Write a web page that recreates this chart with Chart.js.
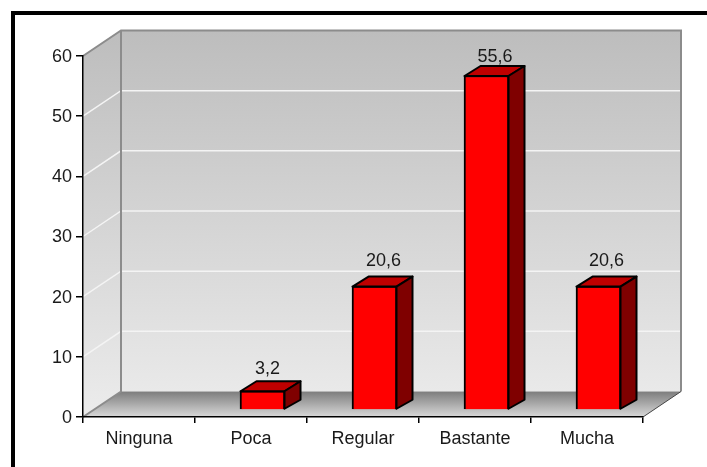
<!DOCTYPE html>
<html lang="es">
<head>
    <meta charset="UTF-8">
    <title>Grafico</title>
    <script src="https://cdn.jsdelivr.net/npm/chart.js"></script>
    <style>
        html, body { margin: 0; padding: 0; background: #fff; }
        #wrap { width: 707px; height: 467px; }
        canvas { display: block; }
    </style>
</head>
<body>
    <div id="wrap"><canvas id="chart" width="707" height="467"></canvas></div>
    <script>
        const categories = ['Ninguna', 'Poca', 'Regular', 'Bastante', 'Mucha'];
        const values = [null, 3.2, 20.6, 55.6, 20.6];
        const valueLabels = ['', '3,2', '20,6', '55,6', '20,6'];
        const yTicks = [0, 10, 20, 30, 40, 50, 60];

        // depth of the box and of the bars, in pixels
        const wallDX = 38, wallDY = 25.5;
        const barDX = 16, barDY = 9.5;
        const shiftX = 11.5, shiftY = 7;
        // the value labels are not placed evenly in the original
        const labelLift = [0, 22, 25, 18, 25];
        const labelNudge = [0, 5, 9, 8.5, 8];
        const textFont = '"Liberation Sans", Arial, sans-serif';

        function poly(ctx, pts, fill, stroke, lw) {
            ctx.beginPath();
            pts.forEach((p, i) => i ? ctx.lineTo(p[0], p[1]) : ctx.moveTo(p[0], p[1]));
            ctx.closePath();
            if (fill) { ctx.fillStyle = fill; ctx.fill(); }
            if (stroke) { ctx.strokeStyle = stroke; ctx.lineWidth = lw; ctx.stroke(); }
        }

        const box3d = {
            id: 'box3d',
            beforeDraw(chart) {
                const { ctx, scales } = chart;
                const y = scales.y, x = scales.x;
                const l = x.left, r = x.right, top = y.getPixelForValue(60), bot = y.getPixelForValue(0);
                ctx.save();

                // frame, only top and left show
                ctx.fillStyle = '#000';
                ctx.fillRect(11, 11, 696, 4);
                ctx.fillRect(11, 11, 4, 456);

                const wall = ctx.createLinearGradient(0, top - wallDY, 0, bot - wallDY);
                wall.addColorStop(0, '#bdbdbd');
                wall.addColorStop(1, '#e9e9e9');
                const side = ctx.createLinearGradient(0, top - wallDY, 0, bot);
                side.addColorStop(0, '#bdbdbd');
                side.addColorStop(1, '#ececec');
                const floor = ctx.createLinearGradient(0, bot - wallDY, 0, bot);
                floor.addColorStop(0, '#7d7d7d');
                floor.addColorStop(1, '#d9d9d9');

                poly(ctx, [[l, top], [l + wallDX, top - wallDY], [l + wallDX, bot - wallDY], [l, bot]], side);
                poly(ctx, [[l + wallDX, top - wallDY], [r + wallDX, top - wallDY], [r + wallDX, bot - wallDY], [l + wallDX, bot - wallDY]], wall);
                poly(ctx, [[l, bot], [l + wallDX, bot - wallDY], [r + wallDX, bot - wallDY], [r, bot]], floor);

                // white grid lines on both walls
                ctx.strokeStyle = '#f4f4f4';
                ctx.lineWidth = 1.5;
                yTicks.slice(1, -1).forEach(t => {
                    const py = y.getPixelForValue(t);
                    ctx.beginPath();
                    ctx.moveTo(l, py);
                    ctx.lineTo(l + wallDX, py - wallDY);
                    ctx.lineTo(r + wallDX, py - wallDY);
                    ctx.stroke();
                });

                // grey edges of the box
                ctx.strokeStyle = '#8c8c8c';
                ctx.lineWidth = 2;
                ctx.beginPath();
                ctx.moveTo(l, top);
                ctx.lineTo(l + wallDX, top - wallDY);
                ctx.lineTo(r + wallDX, top - wallDY);
                ctx.lineTo(r + wallDX, bot - wallDY);
                ctx.moveTo(l + wallDX, top - wallDY);
                ctx.lineTo(l + wallDX, bot - wallDY);
                ctx.lineTo(l, bot);
                ctx.stroke();
                ctx.strokeStyle = '#444';
                ctx.lineWidth = 1;
                ctx.beginPath();
                ctx.moveTo(r + wallDX, bot - wallDY);
                ctx.lineTo(r, bot);
                ctx.stroke();
                ctx.restore();
            },
            beforeDatasetDraw(chart) {
                chart.ctx.save();
                chart.ctx.translate(shiftX, -shiftY);
            },
            afterDatasetDraw(chart, args) {
                const ctx = chart.ctx;
                args.meta.data.forEach((bar, i) => {
                    if (values[i] === null) return;
                    const p = bar.getProps(['x', 'y', 'base', 'width']);
                    const a = p.x - p.width / 2 + 0.5, b = p.x + p.width / 2 - 0.5;
                    ctx.lineJoin = 'round';
                    poly(ctx, [[a, p.y + 0.5], [a + barDX, p.y - barDY], [b + barDX, p.y - barDY], [b, p.y + 0.5]], '#bf0000', '#000', 2);
                    poly(ctx, [[b, p.y + 0.5], [b + barDX, p.y - barDY], [b + barDX, p.base - barDY], [b, p.base - 0.5]], '#7f0000', '#000', 2);
                    ctx.fillStyle = '#1a1a1a';
                    ctx.font = '18px ' + textFont;
                    ctx.textAlign = 'center';
                    ctx.textBaseline = 'middle';
                    ctx.fillText(valueLabels[i], p.x + labelNudge[i], p.y - labelLift[i]);
                });
                ctx.restore();
            }
        };

        new Chart(document.getElementById('chart'), {
            type: 'bar',
            data: {
                labels: categories,
                datasets: [{
                    data: values,
                    backgroundColor: '#ff0000',
                    borderColor: '#000',
                    borderWidth: 2,
                    barThickness: 45
                }]
            },
            options: {
                responsive: false,
                animation: false,
                events: [],
                layout: { padding: { left: 0, top: 56, right: 64, bottom: 0 } },
                plugins: { legend: { display: false }, tooltip: { enabled: false } },
                scales: {
                    x: {
                        grid: { display: true, drawOnChartArea: false, color: '#000', lineWidth: 1.5, tickLength: 6 },
                        border: { color: '#000', width: 1.5 },
                        ticks: { color: '#1a1a1a', padding: 5, maxRotation: 0, font: { family: textFont, size: 18 } },
                        afterFit(scale) { scale.height = 50; }
                    },
                    y: {
                        min: 0,
                        max: 60,
                        grid: { display: true, drawOnChartArea: false, color: '#000', lineWidth: 1.5, tickLength: 7 },
                        border: { color: '#000', width: 1.5 },
                        ticks: { color: '#1a1a1a', padding: 4, stepSize: 10, labelOffset: 1, font: { family: textFont, size: 18 } },
                        afterFit(scale) { scale.width = 83; }
                    }
                }
            },
            plugins: [box3d]
        });
    </script>
</body>
</html>
